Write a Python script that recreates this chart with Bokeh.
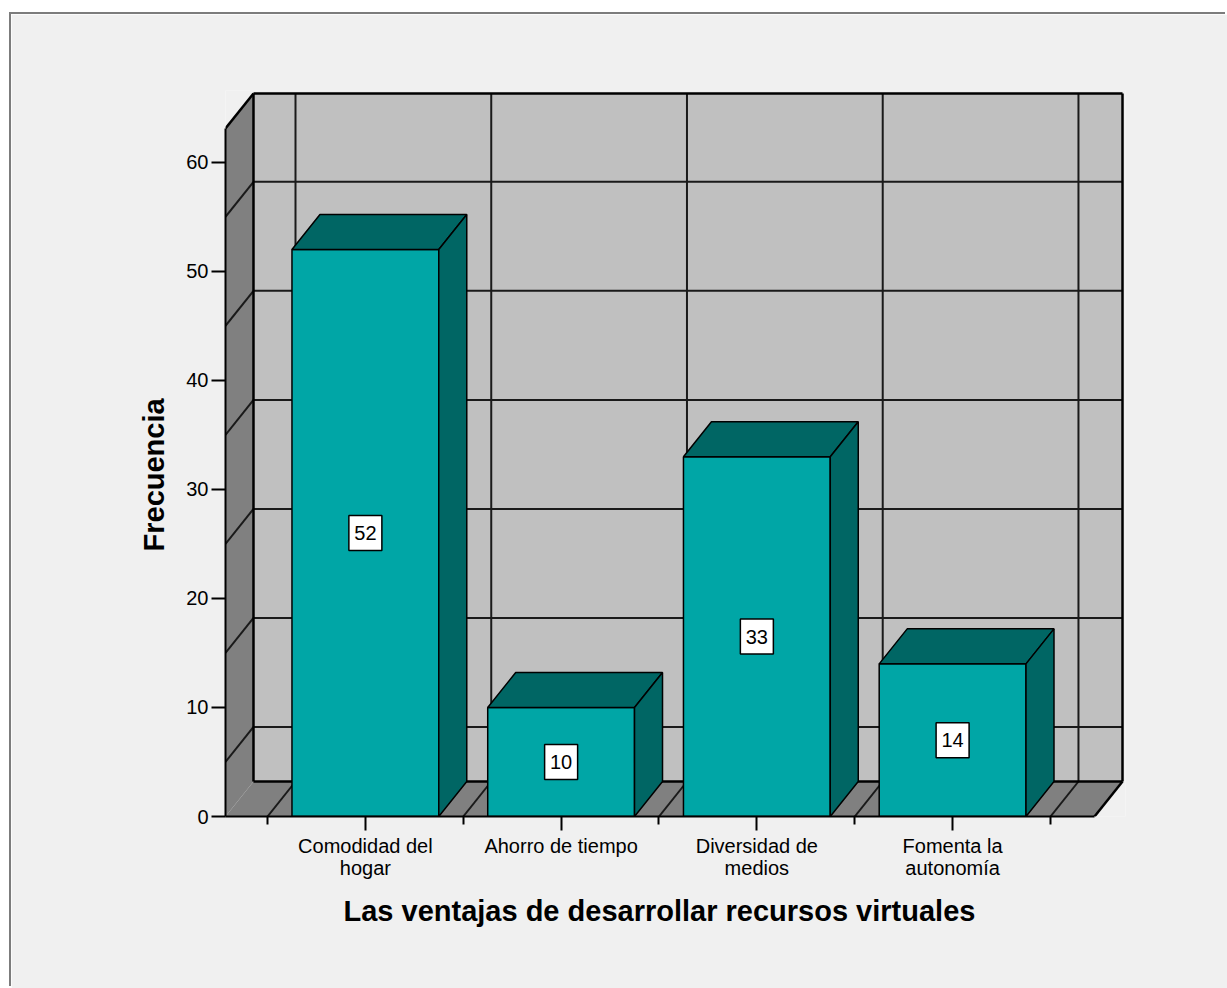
from bokeh.plotting import figure
from bokeh.models import Range1d, FixedTicker, Title
from bokeh.embed import file_html
from bokeh.resources import INLINE
from bokeh.core.properties import value

# ---------------- data ----------------
categories = ["Comodidad del hogar", "Ahorro de tiempo", "Diversidad de medios", "Fomenta la autonomía"]
category_tick_labels = ["Comodidad del\nhogar", "Ahorro de tiempo", "Diversidad de\nmedios", "Fomenta la\nautonomía"]
frequencies = [52, 10, 33, 14]
y_ticks = [0, 10, 20, 30, 40, 50, 60]
grid_values = [5, 15, 25, 35, 45, 55]
x_title = "Las ventajas de desarrollar recursos virtuales"
y_title = "Frecuencia"

# ---------------- geometry (3D look) ----------------
positions = [i + 1 for i in range(len(categories))]
boundaries = [p - 0.5 for p in positions] + [positions[-1] + 0.5]
X0, X1 = 0.2854, 4.725          # front left / front right of the floor
TOP = 63.1                       # top of the walls (value units)
DX, DY = 0.143, 3.21             # depth offset
BAR_W = 0.75

FONT = "Liberation Sans"
FRONT = "#00a6a6"
DARK = "#006664"
WALL = "#c0c0c0"
SIDE = "#808080"
BG = "#f0f0f0"

p = figure(width=1216, height=974, output_backend="svg", toolbar_location=None,
           x_range=Range1d(X0, X1 + DX + 0.0153), y_range=Range1d(0, TOP + DY + 0.275),
           min_border_left=214, min_border_right=102, min_border_top=76, min_border_bottom=172)
p.margin = (14, 0, 0, 11)
p.styles = {"box-shadow": "-2px -2px 0 0 #7c7c7c"}
p.background_fill_color = BG
p.border_fill_color = BG
p.outline_line_color = None
p.xgrid.visible = False
p.ygrid.visible = False

# back wall
p.quad(left=[X0 + DX], right=[X1 + DX], bottom=[DY], top=[TOP + DY], fill_color=WALL, line_color=None)
# floor and left side wall
p.patches(xs=[[X0, X1, X1 + DX, X0 + DX], [X0, X0, X0 + DX, X0 + DX]],
          ys=[[0, 0, DY, DY], [0, TOP, TOP + DY, DY]], fill_color=SIDE, line_color=None)

# grid lines
gl = dict(line_color="#1a1a1a", line_width=2)
p.segment(x0=[X0 + DX] * len(grid_values), x1=[X1 + DX] * len(grid_values),
          y0=[g + DY for g in grid_values], y1=[g + DY for g in grid_values], **gl)
p.segment(x0=[X0] * len(grid_values), x1=[X0 + DX] * len(grid_values),
          y0=grid_values, y1=[g + DY for g in grid_values], **gl)
p.segment(x0=[b + DX for b in boundaries], x1=[b + DX for b in boundaries],
          y0=[DY] * len(boundaries), y1=[TOP + DY] * len(boundaries), **gl)
p.segment(x0=boundaries, x1=[b + DX for b in boundaries],
          y0=[0] * len(boundaries), y1=[DY] * len(boundaries), **gl)

# wall edges
el = dict(line_color="black", line_width=2.5)
p.segment(x0=[X0 + DX, X0 + DX, X0 + DX, X1 + DX, X0, X1],
          y0=[DY, DY, TOP + DY, DY, TOP, 0],
          x1=[X1 + DX, X0 + DX, X1 + DX, X1 + DX, X0 + DX, X1 + DX],
          y1=[DY, TOP + DY, TOP + DY, TOP + DY, TOP + DY, DY], **el)

# bars
lefts = [c - BAR_W / 2 for c in positions]
rights = [c + BAR_W / 2 for c in positions]
p.quad(left=lefts, right=rights, bottom=[0] * len(frequencies), top=frequencies,
       fill_color=FRONT, line_color="black", line_width=1.5)
p.patches(xs=[[l, r, r + DX, l + DX] for l, r in zip(lefts, rights)],
          ys=[[v, v, v + DY, v + DY] for v in frequencies],
          fill_color=DARK, line_color="black", line_width=1.5)
p.patches(xs=[[r, r + DX, r + DX, r] for r in rights],
          ys=[[0, DY, v + DY, v] for v in frequencies],
          fill_color=DARK, line_color="black", line_width=1.5)

# value labels
mids = [v / 2 for v in frequencies]
p.rect(x=positions, y=mids, width=33, height=35, width_units="screen", height_units="screen",
       fill_color="white", line_color="black", line_width=1.5)
p.text(x=positions, y=mids, text=[str(v) for v in frequencies], text_align="center",
       text_baseline="middle", text_font=value(FONT), text_font_size="20px", text_color="black")

# axes
ya = p.yaxis[0]
ya.ticker = FixedTicker(ticks=y_ticks, minor_ticks=[])
ya.bounds = (0, TOP)
ya.axis_line_width = 2
ya.axis_line_color = "black"
ya.major_tick_out = 14
ya.major_tick_in = 0
ya.major_tick_line_width = 2
ya.minor_tick_out = 0
ya.minor_tick_in = 0
ya.major_label_standoff = 3
ya.major_label_text_font = FONT
ya.major_label_text_font_size = "20px"
ya.major_label_text_color = "black"

xa = p.xaxis[0]
xa.ticker = FixedTicker(ticks=positions, minor_ticks=boundaries)
xa.bounds = (X0, X1)
xa.major_label_overrides = {pos: lab for pos, lab in zip(positions, category_tick_labels)}
xa.axis_line_width = 2
xa.axis_line_color = "black"
xa.major_tick_out = 14
xa.major_tick_in = 0
xa.minor_tick_out = 8
xa.minor_tick_in = 0
xa.major_tick_line_width = 2
xa.minor_tick_line_width = 2
xa.minor_tick_line_color = "black"
xa.major_label_standoff = 4
xa.major_label_text_font = FONT
xa.major_label_text_font_size = "20px"
xa.major_label_text_line_height = 1.0
xa.major_label_text_color = "black"

# axis titles, centred on the axis extents rather than the plot frame
p.add_layout(Title(text=x_title, align="left", offset=118, standoff=23, text_font=FONT,
                   text_font_size="29px", text_font_style="bold", text_color="black"), "below")
p.add_layout(Title(text=y_title, align="left", offset=265, standoff=28, text_font=FONT,
                   text_font_size="29px", text_font_style="bold", text_color="black"), "left")

open("out.html", "w").write(file_html(p, INLINE))
